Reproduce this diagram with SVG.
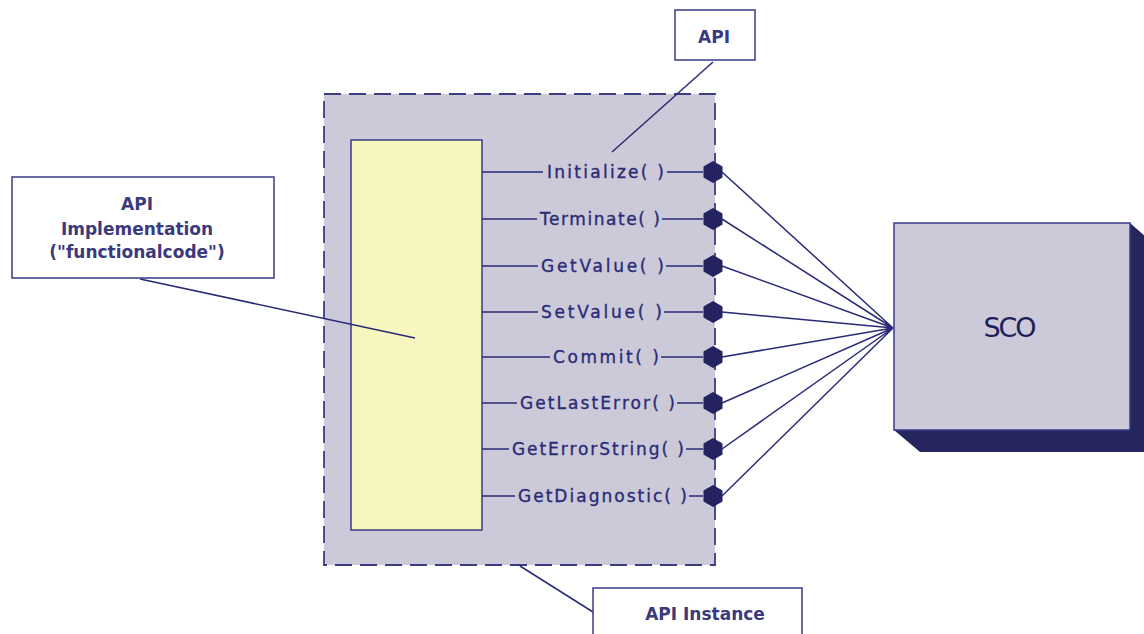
<svg xmlns="http://www.w3.org/2000/svg" width="1144" height="634" viewBox="0 0 1144 634">
  <style>
    .box { fill: #ffffff; stroke: #3a3a86; stroke-width: 1.5; }
    .lead { fill: none; stroke: #2a2a78; stroke-width: 1.5; }
    .wire { fill: none; stroke: #2a2a78; stroke-width: 1.5; }
    .note { font-family: "DejaVu Sans", "Liberation Sans", sans-serif; font-size: 17px; font-weight: bold; fill: #3a3a7c; text-anchor: middle; }
    .meth { font-family: "DejaVu Sans", "Liberation Sans", sans-serif; font-size: 17px; fill: #2a2a76; stroke: #2a2a76; stroke-width: 0.35; }
    .port { fill: #232360; }
  </style>
  <defs>
    <polygon id="hex" class="port" points="0,-11 9.5,-5.5 9.5,5.5 0,11 -9.5,5.5 -9.5,-5.5"/>
  </defs>
  <rect width="1144" height="634" fill="#ffffff"/>

  <!-- API instance container -->
  <g id="api-instance">
    <rect x="324" y="94" width="391" height="471" fill="#cccad8" stroke="#3c3c84" stroke-width="1.8" stroke-dasharray="17,8"/>
  </g>

  <!-- implementation block -->
  <g id="implementation">
    <rect x="351" y="140" width="131" height="390" fill="#f6f6be" stroke="#3c3c84" stroke-width="1.5"/>
  </g>

  <!-- SCO with extruded shadow -->
  <g id="sco">
    <polygon points="894,430 920,452 1160,452 1160,249 1130,223 1130,430" fill="#26265e"/>
    <rect x="894" y="223" width="236" height="207" fill="#cccad8" stroke="#3a3a86" stroke-width="1.5"/>
    <text x="1009" y="337" font-family="DejaVu Sans, Liberation Sans, sans-serif" font-size="27" fill="#1e1e5a" text-anchor="middle" letter-spacing="-2">SCO</text>
  </g>

  <!-- connectors -->
  <g id="connectors">
    <!-- callout leaders -->
    <path class="lead" d="M713,62 L612,152"/>
    <path class="lead" d="M140,279 L415,338"/>
    <path class="lead" d="M520,566 L593,612"/>
    <!-- method stubs -->
    <path class="wire" d="M482,172 H543 M667,172 H703"/>
    <path class="wire" d="M482,219 H537 M662,219 H703"/>
    <path class="wire" d="M482,266 H538 M666,266 H703"/>
    <path class="wire" d="M482,312 H538 M664,312 H703"/>
    <path class="wire" d="M482,357 H550 M661,357 H703"/>
    <path class="wire" d="M482,403 H517 M677,403 H703"/>
    <path class="wire" d="M482,449 H509 M686,449 H703"/>
    <path class="wire" d="M482,496 H515 M689,496 H703"/>
    <!-- ports to SCO -->
    <path class="wire" d="M722,172 L893,328 M722,219 L893,328 M722,266 L893,328 M722,312 L893,328 M722,357 L893,328 M722,403 L893,328 M722,449 L893,328 M722,496 L893,328"/>
  </g>

  <!-- interface ports -->
  <g id="ports">
    <use href="#hex" x="713" y="172"/>
    <use href="#hex" x="713" y="219"/>
    <use href="#hex" x="713" y="266"/>
    <use href="#hex" x="713" y="312"/>
    <use href="#hex" x="713" y="357"/>
    <use href="#hex" x="713" y="403"/>
    <use href="#hex" x="713" y="449"/>
    <use href="#hex" x="713" y="496"/>
  </g>

  <!-- method labels -->
  <g id="methods">
    <text class="meth" x="547" y="178" textLength="117">Initialize( )</text>
    <text class="meth" x="540" y="225" textLength="120">Terminate( )</text>
    <text class="meth" x="541" y="272" textLength="123">GetValue( )</text>
    <text class="meth" x="541" y="318" textLength="121">SetValue( )</text>
    <text class="meth" x="553" y="363" textLength="106">Commit( )</text>
    <text class="meth" x="520" y="409" textLength="155">GetLastError( )</text>
    <text class="meth" x="512" y="455" textLength="172">GetErrorString( )</text>
    <text class="meth" x="518" y="502" textLength="169">GetDiagnostic( )</text>
  </g>

  <!-- callouts -->
  <g id="callout-api">
    <rect class="box" x="675" y="10" width="80" height="50"/>
    <text class="note" x="714" y="43" font-size="19">API</text>
  </g>
  <g id="callout-implementation">
    <rect class="box" x="12" y="177" width="262" height="101"/>
    <text class="note" x="137" y="210">API</text>
    <text class="note" x="137" y="235">Implementation</text>
    <text class="note" x="137" y="258">("functionalcode")</text>
  </g>
  <g id="callout-instance">
    <rect class="box" x="593" y="588" width="209" height="60"/>
    <text class="note" x="705" y="620" font-size="19">API Instance</text>
  </g>
</svg>
